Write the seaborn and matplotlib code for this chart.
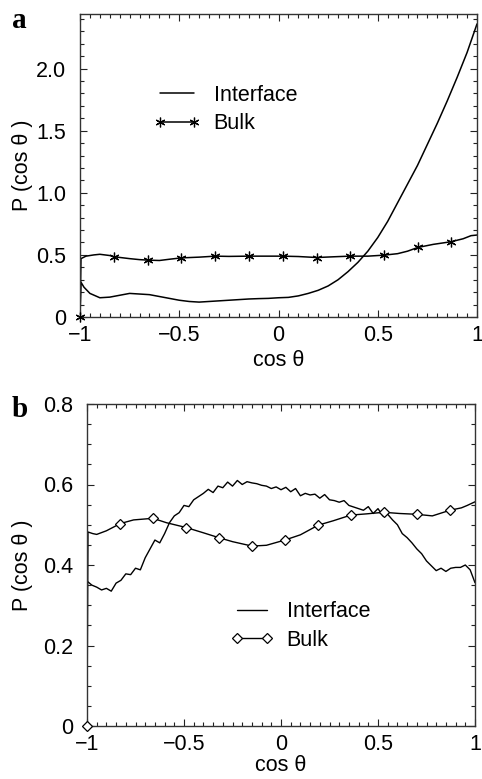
import numpy as np
import pandas as pd
import matplotlib
matplotlib.use("Agg")
import matplotlib.pyplot as plt
from matplotlib.lines import Line2D
from matplotlib.ticker import MultipleLocator
import seaborn as sns

# ---------------- data ----------------
# Panel a
int_a_x = [-1.0, -0.995, -0.98, -0.95, -0.9, -0.85, -0.8, -0.75, -0.7, -0.65, -0.6, -0.55,
           -0.5, -0.45, -0.4, -0.35, -0.3, -0.25, -0.2, -0.15, -0.1, -0.05, 0.0, 0.05,
           0.1, 0.15, 0.2, 0.25, 0.3, 0.35, 0.4, 0.45, 0.5, 0.55, 0.6, 0.65, 0.7, 0.75,
           0.8, 0.85, 0.9, 0.95, 1.0]
int_a_y = [0.0, 0.28, 0.24, 0.19, 0.155, 0.16, 0.175, 0.19, 0.185, 0.18, 0.165, 0.15,
           0.135, 0.125, 0.12, 0.125, 0.13, 0.135, 0.14, 0.145, 0.148, 0.15, 0.155, 0.158,
           0.17, 0.19, 0.215, 0.25, 0.3, 0.365, 0.44, 0.53, 0.64, 0.77, 0.92, 1.07, 1.22,
           1.39, 1.56, 1.74, 1.93, 2.13, 2.36]

bulk_a_x = [-1.0, -0.995, -0.97, -0.93, -0.9, -0.85, -0.828, -0.75, -0.7, -0.657, -0.6,
            -0.55, -0.49, -0.4, -0.319, -0.25, -0.15, -0.05, 0.021, 0.1, 0.193, 0.28,
            0.359, 0.45, 0.531, 0.6, 0.65, 0.702, 0.78, 0.869, 0.93, 0.97, 1.0]
bulk_a_y = [0.0, 0.47, 0.49, 0.50, 0.505, 0.495, 0.485, 0.47, 0.462, 0.458, 0.455,
            0.465, 0.476, 0.482, 0.49, 0.488, 0.49, 0.49, 0.49, 0.487, 0.479, 0.485,
            0.49, 0.49, 0.498, 0.51, 0.53, 0.56, 0.585, 0.606, 0.63, 0.655, 0.66]
bulk_a_mx = [-1.0, -0.828, -0.657, -0.49, -0.319, -0.15, 0.021, 0.193, 0.359, 0.531, 0.702, 0.869]
bulk_a_my = [0.0, 0.485, 0.458, 0.476, 0.49, 0.49, 0.49, 0.479, 0.49, 0.498, 0.56, 0.606]

# Panel b
int_b_x = [-1.0] + list(np.round(np.arange(-1.0, 1.0001, 0.025), 3))
int_b_y = [0.0,
           0.36, 0.35, 0.345, 0.338, 0.342, 0.335, 0.355, 0.362, 0.378, 0.376,
           0.392, 0.388, 0.418, 0.440, 0.462, 0.455, 0.478, 0.505, 0.522, 0.530,
           0.548, 0.545, 0.562, 0.570, 0.578, 0.588, 0.580, 0.596, 0.592, 0.606,
           0.596, 0.610, 0.600, 0.607, 0.604, 0.602, 0.598, 0.596, 0.590, 0.594,
           0.587, 0.593, 0.582, 0.590, 0.572, 0.578, 0.574, 0.576, 0.566, 0.575,
           0.562, 0.560, 0.556, 0.560, 0.548, 0.544, 0.540, 0.536, 0.545, 0.528,
           0.540, 0.522, 0.526, 0.512, 0.500, 0.478, 0.468, 0.455, 0.440, 0.428,
           0.410, 0.398, 0.386, 0.392, 0.384, 0.392, 0.394, 0.394, 0.400, 0.388,
           0.356]

bulk_b_x = [-1.0, -0.995, -0.97, -0.95, -0.9, -0.828, -0.76, -0.66, -0.59, -0.488, -0.4,
            -0.321, -0.25, -0.149, -0.075, 0.02, 0.1, 0.192, 0.27, 0.36, 0.44, 0.53,
            0.61, 0.699, 0.78, 0.871, 0.93, 0.96, 1.0]
bulk_b_y = [0.0, 0.482, 0.478, 0.476, 0.485, 0.503, 0.512, 0.516, 0.505, 0.493, 0.48,
            0.468, 0.458, 0.447, 0.449, 0.462, 0.475, 0.499, 0.51, 0.524, 0.527, 0.531,
            0.528, 0.526, 0.522, 0.536, 0.542, 0.548, 0.557]
bulk_b_mx = [-1.0, -0.828, -0.66, -0.488, -0.321, -0.149, 0.02, 0.192, 0.36, 0.53, 0.699, 0.871]
bulk_b_my = [0.0, 0.503, 0.516, 0.493, 0.468, 0.447, 0.462, 0.499, 0.524, 0.531, 0.526, 0.536]

x_ticks = [-1, -0.5, 0, 0.5, 1]
x_ticklabels = ["\u22121", "\u22120.5", "0", "0.5", "1"]
ya_ticks = [0, 0.5, 1.0, 1.5, 2.0]
ya_ticklabels = ["0", "0.5", "1.0", "1.5", "2.0"]
yb_ticks = [0, 0.2, 0.4, 0.6, 0.8]
yb_ticklabels = ["0", "0.2", "0.4", "0.6", "0.8"]

# ---------------- style ----------------
sns.set_theme(style="ticks")
plt.rcParams["font.family"] = ["Liberation Sans", "DejaVu Sans"]
plt.rcParams["axes.edgecolor"] = "#333333"
plt.rcParams["axes.linewidth"] = 1.0
plt.rcParams["text.color"] = "black"
plt.rcParams["axes.labelcolor"] = "black"
plt.rcParams["xtick.labelcolor"] = "black"
plt.rcParams["ytick.labelcolor"] = "black"

FS = 15.5
fig = plt.figure(figsize=(4.82, 7.79), dpi=100)
ax_a = fig.add_axes([80 / 482, 1 - 317 / 779, 397 / 482, 303 / 779])
ax_b = fig.add_axes([87 / 482, 1 - 726 / 779, 388 / 482, 322 / 779])


def style_axes(ax, yticks, yticklabels, ylim, yminor):
    ax.set_xlim(-1, 1)
    ax.set_ylim(*ylim)
    ax.set_xticks(x_ticks)
    ax.set_xticklabels(x_ticklabels, fontsize=FS, color="black")
    ax.set_yticks(yticks)
    ax.set_yticklabels(yticklabels, fontsize=FS, color="black")
    ax.xaxis.set_minor_locator(MultipleLocator(0.05))
    ax.yaxis.set_minor_locator(MultipleLocator(yminor))
    ax.tick_params(which="both", direction="in", top=True, right=True,
                   color="#222222", width=0.8)
    ax.tick_params(which="major", length=5)
    ax.tick_params(which="minor", length=3)
    ax.tick_params(axis="y", which="major", pad=10)
    ax.tick_params(axis="x", which="major", pad=6)
    for s in ax.spines.values():
        s.set_visible(True)
    ax.set_xlabel("cos \u03b8", fontsize=FS, color="black")
    ax.set_ylabel("P (cos \u03b8 )", fontsize=FS, color="black")


# ---- panel a ----
sns.lineplot(x=int_a_x, y=int_a_y, ax=ax_a, color="black", lw=1.1, sort=False, estimator=None)
sns.lineplot(x=bulk_a_x, y=bulk_a_y, ax=ax_a, color="black", lw=1.1, sort=False, estimator=None)
ast = (6, 2, 0)
ax_a.plot(bulk_a_mx, bulk_a_my, ls="none", marker=ast, ms=7, mew=0.9, color="black",
          clip_on=False, zorder=5)
style_axes(ax_a, ya_ticks, ya_ticklabels, (0, 2.44), 0.1)
ax_a.xaxis.set_label_coords(0.5, -0.11)
ax_a.yaxis.set_label_coords(-0.118, 0.5)
h_a = [Line2D([], [], color="black", lw=1.1),
       Line2D([], [], color="black", lw=1.1, marker=ast, ms=7, mew=0.9)]
ax_a.legend(h_a, ["Interface", "Bulk"], loc="upper left", bbox_to_anchor=(0.185, 0.767),
            frameon=False, fontsize=FS, handlelength=2.2, handletextpad=0.6,
            labelspacing=0.35, borderpad=0, borderaxespad=0, numpoints=2)

# ---- panel b ----
sns.lineplot(x=int_b_x, y=int_b_y, ax=ax_b, color="black", lw=1.0, sort=False, estimator=None)
sns.lineplot(x=bulk_b_x, y=bulk_b_y, ax=ax_b, color="black", lw=1.0, sort=False, estimator=None)
ax_b.plot(bulk_b_mx, bulk_b_my, ls="none", marker="D", ms=5, mew=0.9, mfc="white",
          mec="black", clip_on=False, zorder=5)
style_axes(ax_b, yb_ticks, yb_ticklabels, (0, 0.8), 0.05)
ax_b.xaxis.set_label_coords(0.5, -0.09)
ax_b.yaxis.set_label_coords(-0.14, 0.5)
h_b = [Line2D([], [], color="black", lw=1.0),
       Line2D([], [], color="black", lw=1.0, marker="D", ms=5, mew=0.9, mfc="white", mec="black")]
ax_b.legend(h_b, ["Interface", "Bulk"], loc="upper left", bbox_to_anchor=(0.37, 0.387),
            frameon=False, fontsize=FS, handlelength=2.0, handletextpad=0.6,
            labelspacing=0.35, borderpad=0, borderaxespad=0, numpoints=2)

# panel letters
fig.text(12 / 482, 1 - 28 / 779, "a", fontsize=21, fontweight="bold",
         family=["Liberation Serif", "DejaVu Serif"], ha="left", va="baseline")
fig.text(12 / 482, 1 - 417 / 779, "b", fontsize=21, fontweight="bold",
         family=["Liberation Serif", "DejaVu Serif"], ha="left", va="baseline")

fig.savefig("out.png", dpi=100)
